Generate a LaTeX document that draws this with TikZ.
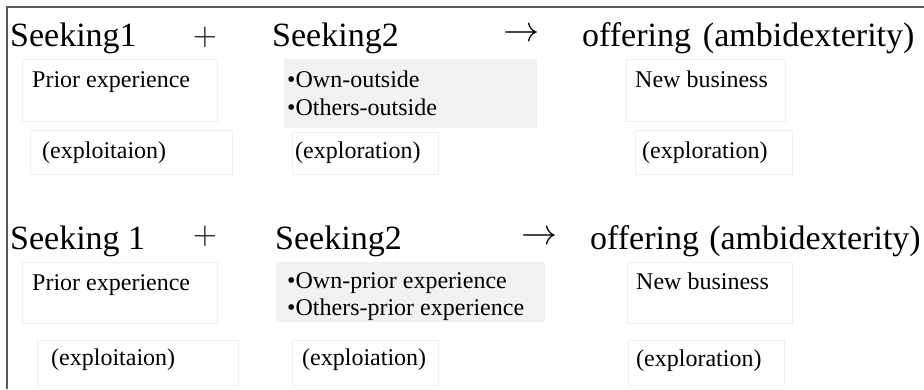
\documentclass[tikz,border=0pt]{standalone}
\usepackage{fix-cm}
\usepackage{fontspec}
\setmainfont{Liberation Serif}
\begin{document}
\begin{tikzpicture}[x=1pt,y=-1pt,
  head/.style={font=\fontsize{34}{40}\selectfont, inner sep=0pt, anchor=base west},
  body/.style={font=\fontsize{24}{28}\selectfont, inner sep=0pt, anchor=base west},
  sym/.style={inner sep=0pt, anchor=center},
  faintbox/.style={draw=black!6, line width=0.8pt, inner sep=0pt, anchor=north west},
  graybox/.style={fill=black!5, draw=none, inner sep=0pt, anchor=north west},
  frameline/.style={draw=black!65, line width=1.5pt}]
\useasboundingbox (0,0) rectangle (924,389);
% frame
\coordinate (fb) at (7,389);
\coordinate (fc) at (7,7);
\coordinate (fr) at (924,7);
\draw[frameline] (fb) -- (fc) -- (fr);
% ---------- row 1 boxes
\node[faintbox, minimum width=195, minimum height=62] (a1) at (22,59) {};
\node[faintbox, minimum width=202, minimum height=44] (a1e) at (30,130) {};
\node[graybox, minimum width=253, minimum height=69] (b1) at (284,59) {};
\node[faintbox, minimum width=146, minimum height=42] (b1e) at (292,132) {};
\node[faintbox, minimum width=159, minimum height=62] (c1) at (626,59) {};
\node[faintbox, minimum width=157, minimum height=44] (c1e) at (635,130) {};
% ---------- row 2 boxes
\node[faintbox, minimum width=195, minimum height=61] (a2) at (22,262) {};
\node[faintbox, minimum width=201, minimum height=45] (a2e) at (37,340) {};
\node[graybox, minimum width=269, minimum height=60] (b2) at (276,262) {};
\node[faintbox, minimum width=146, minimum height=45] (b2e) at (292,340) {};
\node[faintbox, minimum width=165, minimum height=61] (c2) at (627,262) {};
\node[faintbox, minimum width=156, minimum height=45] (c2e) at (628,340) {};
% ---------- row 1 headings
\node[head] (s11) at (10,46.5) {Seeking1};
\node[sym, font=\fontsize{33}{36}\selectfont] (p1) at (205,37) {$+$};
\node[head] (s12) at (272,46.5) {Seeking2};
\node[sym, font=\fontsize{36}{40}\selectfont] (r1) at (521,35) {$\rightarrow$};
\node[head] (o1) at (582,46.5) {offering\hspace{0.35em}(ambidexterity)};
% ---------- row 1 texts
\node[body] (t11) at (32,87) {Prior experience};
\node[body] (t12) at (287,87) {•Own-outside};
\node[body] (t13) at (287,115) {•Others-outside};
\node[body] (t14) at (635,87) {New business};
\node[body] (t15) at (42,158) {(exploitaion)};
\node[body] (t16) at (295,158) {(exploration)};
\node[body] (t17) at (642,158) {(exploration)};
% ---------- row 2 headings
\node[head] (s21) at (10,249) {Seeking 1};
\node[sym, font=\fontsize{33}{36}\selectfont] (p2) at (205,236) {$+$};
\node[head] (s22) at (275,249) {Seeking2};
\node[sym, font=\fontsize{36}{40}\selectfont] (r2) at (539,238) {$\rightarrow$};
\node[head] (o2) at (590,249) {offering\hspace{0.3em}(ambidexterity)};
% ---------- row 2 texts
\node[body] (t21) at (32,290) {Prior experience};
\node[body] (t22) at (287,288) {•Own-prior experience};
\node[body] (t23) at (287,315) {•Others-prior experience};
\node[body] (t24) at (636,289) {New business};
\node[body] (t25) at (51,365) {(exploitaion)};
\node[body] (t26) at (302,365) {(exploiation)};
\node[body] (t27) at (636,366) {(exploration)};
\end{tikzpicture}
\end{document}
